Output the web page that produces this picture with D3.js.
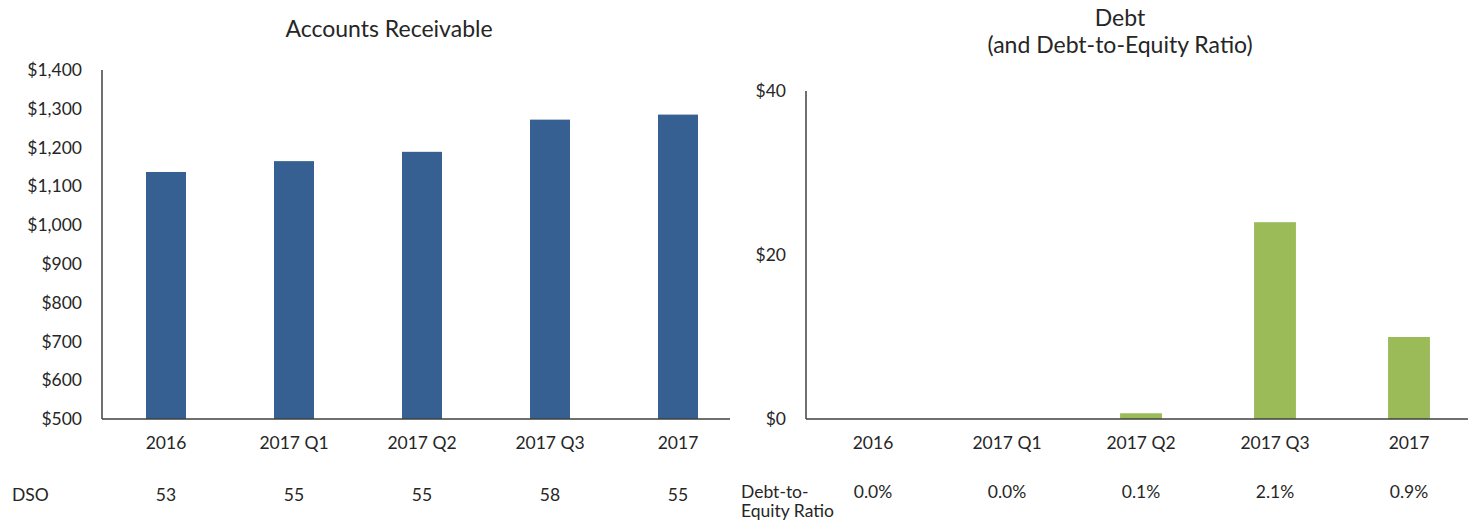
<!DOCTYPE html>
<html>
<head>
<meta charset="utf-8">
<script src="https://cdn.jsdelivr.net/npm/d3@7/dist/d3.min.js"></script>
<style>
  html, body { margin: 0; padding: 0; background: #fff; }
  svg text { font-family: Lato, "Open Sans", sans-serif; fill: #262626; }
</style>
</head>
<body>
<svg id="chart" width="1468" height="523"></svg>
<script>
// Periods shared by both panels
const categories = ["2016", "2017 Q1", "2017 Q2", "2017 Q3", "2017"];

// Accounts receivable ($ millions) and days sales outstanding
const receivables = [1137, 1165, 1189, 1272, 1285];
const dso = ["53", "55", "55", "58", "55"];
const receivableTicks = [500, 600, 700, 800, 900, 1000, 1100, 1200, 1300, 1400];

// Debt ($ millions) and debt-to-equity ratio
const debt = [0, 0, 0.7, 24, 10];
const debtToEquity = ["0.0%", "0.0%", "0.1%", "2.1%", "0.9%"];
const debtTicks = [0, 20, 40];

const svg = d3.select("#chart");
const fontSize = 17.5;
const titleSize = 23;
const axisColor = "#404040";
const money = d3.format("$,");

function panel(opts) {
  const g = svg.append("g");
  const x = d3.scaleBand().domain(categories).range([opts.x0, opts.x1]).paddingInner(0.6875).paddingOuter(0.34375);
  const y = d3.scaleLinear().domain(opts.domain).range([opts.yBottom, opts.yTop]);

  // bars
  g.selectAll("rect.bar").data(opts.values).join("rect")
    .attr("class", "bar")
    .attr("x", (d, i) => x(categories[i]))
    .attr("width", x.bandwidth())
    .attr("y", d => y(d))
    .attr("height", d => y(opts.domain[0]) - y(d))
    .attr("fill", opts.color);

  // y axis: labels only, plus a plain vertical line
  const yAxis = d3.axisLeft(y).tickValues(opts.ticks).tickFormat(money).tickSize(0).tickPadding(20);
  const ya = g.append("g").attr("transform", `translate(${opts.x0},0)`).call(yAxis);
  ya.select(".domain").remove();
  ya.selectAll("text").attr("font-size", fontSize).style("font-family", "Lato, sans-serif").attr("fill", "#262626");
  g.append("line").attr("x1", opts.x0).attr("x2", opts.x0)
    .attr("y1", opts.yTop).attr("y2", opts.yBottom)
    .attr("stroke", axisColor).attr("stroke-width", 1.5);

  // x axis line and category labels
  g.append("line").attr("x1", opts.x0).attr("x2", opts.lineEnd)
    .attr("y1", opts.yBottom).attr("y2", opts.yBottom)
    .attr("stroke", axisColor).attr("stroke-width", 1.5);
  const xAxis = d3.axisBottom(x).tickSize(0).tickPadding(18);
  const xa = g.append("g").attr("transform", `translate(0,${opts.yBottom})`).call(xAxis);
  xa.select(".domain").remove();
  xa.selectAll("text").attr("font-size", fontSize).style("font-family", "Lato, sans-serif").attr("fill", "#262626");

  // secondary metric row
  g.selectAll("text.metric").data(opts.metric).join("text")
    .attr("class", "metric")
    .attr("x", (d, i) => x(categories[i]) + x.bandwidth() / 2)
    .attr("y", opts.metricY)
    .attr("text-anchor", "middle")
    .attr("font-size", fontSize)
    .text(d => d);

  const lbl = g.append("text").attr("x", opts.metricLabelX).attr("y", opts.metricY).attr("font-size", fontSize);
  opts.metricLabel.forEach((t, i) => {
    lbl.append("tspan").attr("x", opts.metricLabelX).attr("dy", i === 0 ? 0 : 19).text(t);
  });

  // title
  const title = g.append("text").attr("x", opts.titleX).attr("y", opts.titleY)
    .attr("text-anchor", "middle").attr("font-size", titleSize);
  opts.title.forEach((t, i) => {
    title.append("tspan").attr("x", opts.titleX).attr("dy", i === 0 ? 0 : 27).text(t);
  });
}

panel({
  x0: 102, x1: 742, lineEnd: 730, yTop: 70, yBottom: 419,
  domain: [500, 1400], ticks: receivableTicks, values: receivables,
  color: "#366092", metric: dso, metricY: 501,
  metricLabel: ["DSO"], metricLabelX: 12,
  title: ["Accounts Receivable"], titleX: 389, titleY: 37
});

panel({
  x0: 806, x1: 1476, lineEnd: 1468, yTop: 91, yBottom: 419,
  domain: [0, 40], ticks: debtTicks, values: debt,
  color: "#9BBB59", metric: debtToEquity, metricY: 498,
  metricLabel: ["Debt-to-", "Equity Ratio"], metricLabelX: 741,
  title: ["Debt", "(and Debt-to-Equity Ratio)"], titleX: 1120, titleY: 26
});
</script>
</body>
</html>
